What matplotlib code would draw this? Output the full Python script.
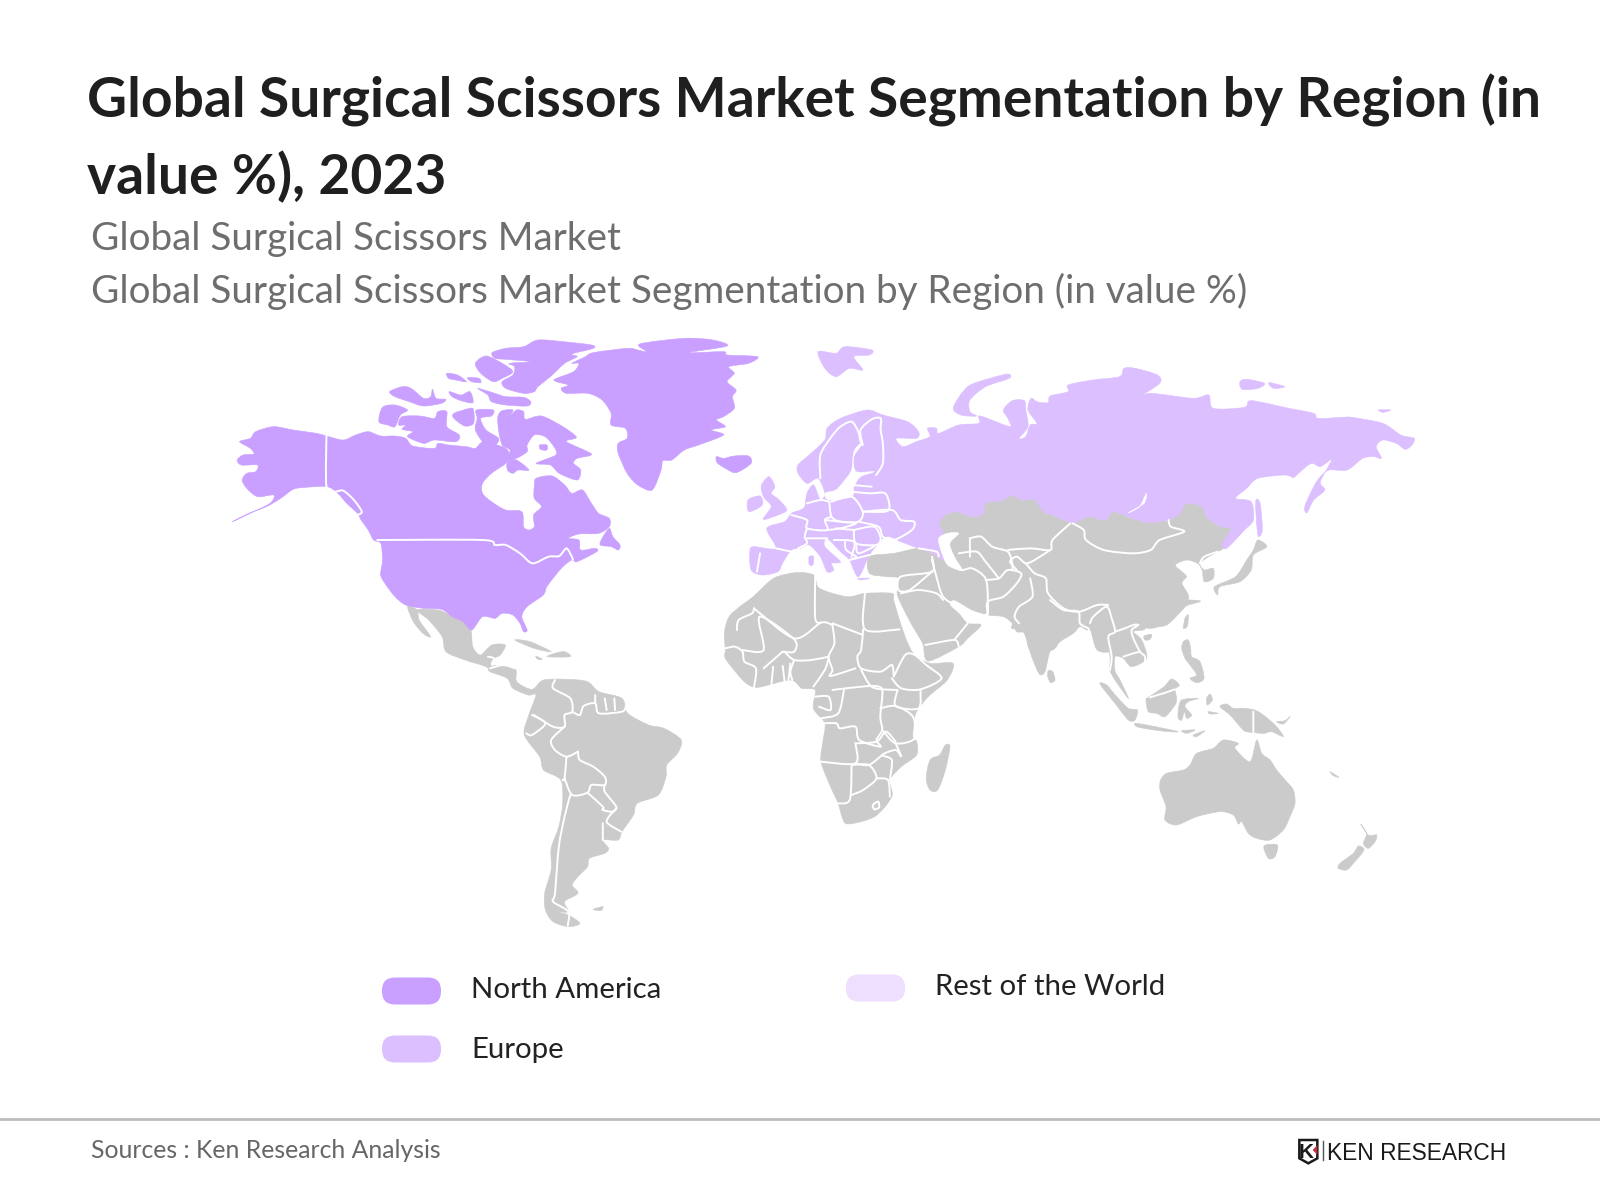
import matplotlib
matplotlib.use("Agg")
import numpy as np
import matplotlib.pyplot as plt
from matplotlib.patches import Polygon, FancyBboxPatch, PathPatch
from matplotlib.path import Path

plt.rcParams["font.family"] = ["Lato", "DejaVu Sans"]

# =========================
# TEXT AND LEGEND
# =========================
title_lines = ["Global Surgical Scissors Market Segmentation by Region (in", "value %), 2023"]
subtitle_lines = ["Global Surgical Scissors Market", "Global Surgical Scissors Market Segmentation by Region (in value %)"]
source_text = "Sources : Ken Research Analysis"
legend_labels = ["North America", "Europe", "Rest of the World"]
legend_colors = ["#C9A0FF", "#DCBFFF", "#EEDFFF"]
land_grey = "#CBCBCB"

# =========================
# MAP OUTLINES, traced from crops
# A = North America crop, B = Eurasia crop, C = Americas/Africa crop, D = Asia-Pacific crop
# =========================
views = {"A": (220, 330, 2.8, 3), "B": (740, 330, 2.24, 3), "C": (400, 600, 2.613, 3), "D": (1000, 600, 3, 3)}

na_shapes = [
    [(35,575),(75,555),(140,520),(150,495),(105,500),(75,475),(62,450),(75,430),(100,425),(105,405),(60,405),(48,390),(65,375),(95,372),(85,355),(55,335),(85,325),(100,305),(150,290),(205,300),(270,310),(298,318),(345,330),(380,315),(415,305),(450,318),(490,318),(520,325),(540,348),(600,355),(610,340),(640,345),(690,350),(715,355),(738,335),(790,350),(805,360),(810,375),(800,400),(760,430),(735,460),(735,490),(760,515),(800,540),(845,545),(850,590),(865,600),(880,590),(878,555),(900,530),(880,505),(880,470),(885,445),(930,438),(965,465),(985,490),(1015,480),(1040,520),(1060,550),(1090,565),(1090,590),(1060,610),(1005,612),(975,625),(1005,630),(1010,660),(1050,655),(1055,665),(1000,695),(985,690),(960,710),(940,735),(915,770),(905,795),(860,830),(845,860),(860,900),(850,905),(840,880),(820,855),(790,850),(770,865),(735,860),(705,900),(680,875),(650,860),(620,838),(570,835),(520,825),(490,800),(465,765),(450,735),(455,690),(450,640),(430,630),(415,600),(395,570),(385,550),(355,520),(330,490),(300,470),(240,472),(205,478),(170,505),(130,530),(80,550)],
    [(762,68),(800,55),(850,50),(890,30),(960,35),(1040,45),(1045,55),(985,72),(1000,80),(965,100),(925,140),(890,170),(880,185),(850,190),(800,175),(790,155),(820,135),(825,110),(810,100),(870,95),(800,88),(770,85)],
    [(715,100),(745,78),(790,100),(820,125),(790,145),(765,155),(730,130)],
    [(635,130),(665,135),(690,155),(660,150),(640,145)],
    [(693,143),(725,145),(730,158),(705,155)],
    [(722,175),(770,190),(800,200),(850,202),(870,215),(860,228),(800,225),(760,215),(750,195)],
    [(642,185),(675,195),(700,185),(708,218),(675,212),(650,200)],
    [(475,185),(510,170),(535,175),(570,205),(590,200),(595,178),(605,205),(632,208),(620,220),(570,228),(530,215),(490,200)],
    [(455,232),(490,225),(525,240),(505,255),(490,290),(470,285),(445,275)],
    [(510,260),(560,258),(600,265),(610,245),(635,245),(635,290),(670,315),(660,335),(600,330),(570,340),(525,320),(540,305),(510,298),(520,285),(500,285)],
    [(655,250),(700,235),(710,240),(710,280),(685,288),(655,265)],
    [(718,240),(765,240),(760,258),(730,265),(745,300),(780,325),(770,345),(740,340),(715,300),(720,265)],
    [(778,260),(790,242),(820,240),(810,260),(830,240),(850,245),(855,268),(900,258),(960,290),(998,322),(970,335),(1040,372),(1000,385),(990,400),(1010,420),(1000,450),(950,430),(925,405),(885,400),(940,375),(935,350),(910,320),(880,315),(860,345),(860,365),(830,385),(805,390),(812,360),(790,345),(780,300)],
    [(805,395),(830,390),(865,420),(835,420),(820,430),(805,420)],
    [(895,345),(915,345),(915,360),(897,358)],
    [(1090,595),(1100,620),(1120,645),(1115,660),(1095,650),(1065,645),(1070,625)],
    [(1045,68),(1140,55),(1170,60),(1195,65),(1175,42),(1300,25),(1380,30),(1420,48),(1310,68),(1410,65),(1420,75),(1505,80),(1480,100),(1425,110),(1440,130),(1420,155),(1445,180),(1435,200),(1440,235),(1410,260),(1390,270),(1415,290),(1375,300),(1410,315),(1340,345),(1300,360),(1265,390),(1240,392),(1235,420),(1210,480),(1170,465),(1140,430),(1115,370),(1115,340),(1140,325),(1135,295),(1095,285),(1095,250),(1070,210),(1030,190),(970,190),(955,175),(975,165),(935,150),(990,125),(1005,100),(985,100),(1020,82)],
    [(1390,380),(1410,385),(1440,378),(1480,378),(1487,400),(1445,428),(1415,415),(1392,398)],
]
na_borders = [
    [(298,318),(298,470),(320,485),(345,482),(375,510),(397,545),(385,555)],
    [(440,630),(735,630),(770,645),(800,645),(840,670),(875,700),(920,680),(950,678),(970,655),(985,680),(988,690)],
]

eu_shapes = [
    [(130,405),(155,375),(190,330),(195,295),(225,265),(285,240),(320,255),(375,275),(400,305),(395,325),(350,325),(365,350),(395,335),(425,320),(420,295),(440,295),(445,310),(490,285),(535,280),(535,258),(560,268),(605,290),(600,265),(590,240),(610,212),(637,212),(640,240),(645,290),(625,325),(640,320),(650,285),(665,280),(645,240),(652,205),(665,215),(690,218),(695,198),(735,185),(735,165),(790,150),(850,140),(860,115),(885,115),(935,135),(940,160),(890,205),(920,190),(1015,205),(1050,195),(1060,235),(1130,232),(1145,212),(1230,235),(1285,250),(1295,265),(1350,262),(1370,262),(1440,280),(1480,315),(1510,325),(1505,345),(1490,358),(1470,340),(1440,330),(1425,350),(1437,385),(1420,380),(1395,385),(1360,420),(1320,420),(1300,440),(1285,470),(1265,530),(1270,548),(1285,510),(1310,480),(1300,455),(1325,390),(1300,410),(1280,400),(1255,425),(1240,442),(1220,435),(1160,445),(1135,475),(1110,505),(1145,515),(1150,570),(1130,600),(1090,655),(1080,640),(1100,595),(1075,590),(1045,560),(1035,530),(1000,520),(985,550),(960,570),(915,578),(880,565),(835,545),(820,570),(780,560),(745,578),(700,555),(680,545),(660,510),(630,510),(610,495),(590,510),(550,520),(545,550),(520,560),(485,545),(460,555),(445,580),(455,610),(445,640),(455,680),(465,700),(430,670),(400,655),(360,635),(335,620),(320,625),(310,640),(290,675),(265,740),(245,690),(225,665),(195,625),(190,650),(225,695),(205,700),(210,720),(195,725),(180,680),(155,645),(135,655),(115,660),(95,700),(85,725),(50,735),(25,720),(22,665),(30,650),(80,655),(60,595),(100,575),(115,550),(135,540),(145,530),(150,490),(165,465),(180,510),(190,490),(175,445),(150,460),(130,430)],
    [(48,465),(65,440),(78,470),(70,490),(88,510),(105,540),(85,555),(52,568),(70,530),(55,505),(50,490)],
    [(18,510),(45,498),(50,525),(20,545)],
    [(175,65),(215,70),(235,50),(295,60),(290,75),(255,80),(275,120),(245,115),(215,140),(190,115)],
    [(478,232),(510,170),(560,145),(600,132),(603,145),(550,170),(515,210),(515,245),(530,258),(495,255)],
    [(1155,515),(1165,520),(1170,600),(1160,615)],
    [(1120,155),(1135,148),(1175,160),(1160,175),(1125,178)],
    [(1185,158),(1220,170),(1195,175)],
    [(1430,240),(1458,240),(1440,247)],
    [(155,680),(165,680),(163,705),(155,703)],
    [(265,745),(290,745),(270,750)],
]
eu_water = [
    [(190,490),(215,480),(235,450),(250,420),(255,365),(270,340),(275,340),(255,380),(260,425),(300,425),(270,440),(255,470),(250,500),(200,510)],
    [(910,490),(905,520),(870,548),(895,530)],
]
eu_borders = [
    [(180,445),(180,375),(205,320),(225,290),(250,275),(265,305),(270,335)],
    [(275,345),(270,300),(295,268),(315,265),(315,300),(320,340),(320,400),(305,435)],
    [(250,465),(295,470)],
    [(250,485),(290,490),(325,490),(335,530),(325,545),(275,545)],
    [(205,515),(250,500),(275,545),(265,575),(225,575),(205,560),(200,515)],
    [(150,520),(180,510),(200,515)],
    [(205,560),(190,570),(195,600),(150,595),(150,570),(115,555)],
    [(150,595),(145,620),(150,640),(130,655)],
    [(80,655),(115,665)],
    [(45,670),(38,725)],
    [(275,545),(340,540),(360,570),(390,575),(385,600),(345,630),(320,620),(310,590),(265,575)],
    [(255,600),(300,590),(315,625),(305,645),(260,640),(255,600)],
    [(260,640),(265,670),(300,650)],
    [(190,570),(225,575),(260,580),(225,595),(195,600)],
    [(215,595),(255,600)],
    [(150,625),(195,625)],
    [(235,635),(238,660),(260,680),(245,690)],
    [(210,630),(255,635),(250,680)],
    [(400,655),(440,665),(445,680)],
    [(245,690),(290,675)],
]

asia_north = [(445,580),(460,555),(485,545),(520,560),(545,550),(550,520),(590,510),(610,495),(630,510),(660,510),(680,545),(700,555),(745,578),(780,560),(820,570),(835,545),(880,565),(915,578),(960,570),(985,550),(1000,520),(1035,530),(1045,560),(1075,590),(1100,590),(1085,650),(1070,665),(1050,680),(1030,700),(1040,720),(1060,715),(1060,745),(1040,755),(1035,720),(1025,700),(1000,690),(975,705),(990,725),(1000,740),(990,760),(1005,800),(990,840),(945,885),(915,895),(880,880),(850,890),(835,960),(800,960),(785,900),(770,880),(755,870),(720,925),(700,960),(650,960),(640,910),(620,905),(610,880),(590,860),(555,855),(520,840),(480,810),(470,825),(490,850),(510,880),(540,885),(510,925),(490,950),(421,993),(409,940),(383,880),(362,825),(352,790),(355,745),(330,740),(290,730),(290,680),(345,670),(400,655),(430,670),(465,700),(455,680),(445,640),(455,610)]
asia_south = [(30,0),(30,30),(40,65),(35,85),(70,95),(95,170),(118,222),(135,215),(150,155),(180,125),(220,100),(240,80),(262,90),(270,70),(285,120),(295,145),(320,120),(330,170),(330,210),(345,240),(385,295),(360,240),(345,212),(345,170),(370,175),(395,200),(440,175),(425,120),(400,95),(430,90),(445,80),(500,75),(555,20),(570,0)]
caspian = [(465,610),(490,610),(470,640),(480,680),(497,720),(465,705),(450,660),(445,625)]
asia_islands_b = [
    [(1160,630),(1180,650),(1150,675),(1145,720),(1120,755),(1075,770),(1070,795),(1063,770),(1110,740),(1135,690),(1150,660)],
]
asia_borders_b = [
    [(430,680),(430,725),(360,740),(355,780),(380,780),(430,725)],
    [(430,690),(440,740),(455,800),(490,830),(550,855),(555,810),(550,745),(520,715),(495,720),(465,700)],
    [(360,790),(400,780),(440,790),(455,810)],
    [(415,945),(480,930),(490,950)],
    [(480,930),(510,880)],
    [(550,750),(580,745),(600,720),(630,730),(620,760),(590,800),(555,815),(555,855)],
    [(650,745),(655,800),(625,830),(615,860),(625,880)],
    [(490,670),(530,665),(550,695),(580,745)],
    [(515,625),(540,620),(565,650),(600,665),(610,700),(610,720)],
    [(515,625),(515,680)],
    [(600,660),(650,655),(695,660),(700,630),(740,580)],
    [(640,700),(660,730),(685,745),(690,790),(725,835),(760,845),(800,825),(825,825)],
    [(695,660),(660,690),(640,700),(620,680),(605,695),(620,720)],
    [(745,580),(770,600),(775,630),(815,660),(880,670),(920,660),(940,630),(995,605),(965,590),(960,570)],
    [(1070,665),(1040,680),(1030,700)],
]
asia_islands_d = [
    [(145,212),(158,215),(165,240),(152,248),(143,230)],
    [(300,252),(320,255),(350,290),(385,325),(412,330),(405,360),(385,360),(345,310)],
    [(405,370),(440,375),(490,385),(535,395),(505,395),(450,388),(410,380)],
    [(545,392),(585,390),(560,400)],
    [(580,405),(615,392),(590,410)],
    [(445,292),(490,262),(515,237),(538,255),(525,268),(530,295),(525,315),(495,350),(470,340),(445,335),(438,300)],
    [(545,300),(595,295),(565,305),(555,320),(575,345),(560,355),(553,335),(545,360),(535,355),(535,330)],
    [(620,295),(630,282),(637,300),(622,315)],
    [(550,125),(565,120),(572,145),(575,170),(600,185),(612,235),(590,248),(570,235),(590,225),(570,195),(555,175),(545,145)],
    [(555,55),(565,45),(562,78),(550,85)],
    [(432,108),(455,103),(450,118),(435,120)],
    [(625,335),(655,340),(630,342)],
    [(660,320),(680,312),(700,325),(735,325),(775,335),(825,375),(850,410),(815,395),(790,400),(740,395),(725,385),(690,345)],
    [(830,365),(855,362),(870,350),(850,372)],
    [(482,540),(500,520),(550,510),(570,495),(590,460),(640,445),(670,420),(715,430),(705,445),(750,485),(770,420),(785,460),(810,480),(830,510),(860,545),(880,570),(885,610),(870,650),(850,690),(810,720),(770,715),(745,700),(725,665),(715,672),(700,645),(660,635),(590,650),(530,675),(495,660),(498,620),(480,570)],
    [(792,738),(832,735),(825,770),(805,775)],
    [(1082,672),(1105,705),(1130,705),(1125,725),(1105,745),(1090,730),(1100,700)],
    [(1075,738),(1092,750),(1060,790),(1040,810),(1015,805),(1020,790),(1060,760)],
    [(990,515),(1017,532),(1000,527)],
]
asia_borders_d = [
    [(150,0),(190,30),(235,35),(240,70),(265,85)],
    [(270,70),(280,50),(320,20),(335,55),(345,95),(325,110),(335,170),(330,210)],
    [(345,95),(375,85),(400,75),(415,75),(395,90),(400,115),(420,155),(435,170),(430,195),(395,215)],
    [(370,170),(400,160),(420,155)],
    [(760,335),(760,400)],
    [(450,292),(490,280),(525,268)],
]

americas_shapes = [
    [(45,30),(100,30),(130,45),(160,55),(185,90),(190,140),(210,165),(240,135),(275,135),(262,165),(245,175),(240,195),(300,205),(305,245),(345,268),(375,240),(440,238),(490,245),(520,275),(580,295),(595,340),(650,375),(690,385),(735,420),(725,460),(697,495),(695,530),(675,585),(620,610),(610,645),(580,695),(570,720),(530,720),(545,745),(535,760),(495,775),(490,800),(465,830),(450,855),(465,880),(430,905),(440,935),(410,935),(440,945),(470,970),(440,980),(400,965),(380,930),(378,880),(395,810),(395,745),(415,680),(425,610),(420,540),(375,510),(365,470),(325,405),(335,350),(355,285),(335,285),(295,265),(280,235),(235,215),(225,200),(170,180),(120,155),(110,110),(75,60)],
    [(20,20),(45,30),(50,60),(80,110),(60,100),(35,65)],
    [(300,120),(340,125),(395,155),(350,145)],
    [(405,160),(430,155),(445,170),(385,170)],
    [(355,168),(372,178),(360,178)],
    [(505,928),(530,920),(525,932)],
]
americas_borders = [
    [(230,170),(245,175),(240,195)],
    [(235,205),(270,195),(300,205)],
    [(405,240),(400,265),(445,295),(450,335),(430,345),(430,380),(400,380),(350,345)],
    [(450,335),(470,345),(480,318),(510,310),(520,340),(580,335),(590,320)],
    [(510,310),(510,285)],
    [(535,295),(540,330)],
    [(560,295),(562,330)],
    [(345,345),(380,370),(345,405),(330,400)],
    [(430,380),(395,420),(405,450),(435,470),(465,455)],
    [(435,470),(430,535),(425,540)],
    [(465,455),(470,480),(505,500),(535,530),(535,555),(500,555),(490,578),(450,585),(430,535)],
    [(445,585),(430,650),(415,740),(405,880),(400,905),(440,935),(438,978)],
    [(490,578),(530,620),(530,630),(555,635),(565,620),(535,575),(535,555)],
    [(565,625),(540,665),(578,695)],
    [(530,670),(530,720)],
]

africa_shapes = [
    [(888,20),(923,-10),(976,-65),(1034,-82),(1081,-75),(1096,-35),(1168,-10),(1215,-20),(1285,-20),(1290,0),(1305,60),(1325,125),(1345,165),(1385,190),(1445,190),(1430,240),(1385,285),(1358,320),(1345,350),(1340,410),(1350,425),(1350,465),(1310,500),(1280,540),(1285,590),(1240,650),(1170,672),(1155,650),(1145,610),(1125,560),(1100,485),(1105,425),(1110,370),(1080,325),(1085,270),(1050,265),(1020,240),(935,262),(905,250),(880,220),(850,175),(850,150),(848,95),(860,50)],
    [(1425,435),(1437,440),(1425,510),(1405,570),(1385,570),(1375,535),(1385,480),(1410,465)],
]
africa_borders = [
    [(880,90),(885,60),(920,40),(925,25)],
    [(895,150),(950,150),(940,50),(1030,118),(1030,155),(1000,155)],
    [(925,25),(1030,115),(1100,68),(1130,75)],
    [(1085,-75),(1085,55),(1100,68)],
    [(1130,70),(1210,105)],
    [(1215,-20),(1215,88),(1305,88)],
    [(1210,88),(1205,150),(1195,170),(1205,205),(1255,215),(1285,195),(1290,225)],
    [(1130,75),(1135,130),(1120,170),(1130,210),(1125,228),(1190,205)],
    [(1005,155),(1030,180),(1075,180),(1120,170)],
    [(1030,180),(1020,215),(1025,240)],
    [(1120,175),(1110,210),(1080,260)],
    [(1290,230),(1320,165),(1345,165),(1375,195),(1415,235),(1360,268),(1310,265),(1285,235)],
    [(1360,268),(1355,325),(1295,318),(1300,270)],
    [(1205,210),(1235,262),(1300,270)],
    [(1130,270),(1165,265),(1235,258),(1260,270),(1255,350),(1260,390),(1245,420),(1255,440),(1200,420),(1190,380),(1150,385),(1140,370),(1105,370)],
    [(1160,270),(1145,340),(1100,355)],
    [(1085,290),(1120,290),(1125,330),(1095,320)],
    [(1255,325),(1295,318),(1340,350),(1345,415),(1295,430),(1260,390)],
    [(1190,430),(1190,490),(1100,485)],
    [(1190,430),(1245,425),(1270,395),(1295,425)],
    [(1260,465),(1225,495),(1190,490)],
    [(1295,430),(1310,470),(1295,450),(1260,465),(1285,480),(1280,540)],
    [(1180,495),(1175,600),(1140,610)],
    [(1180,495),(1225,495),(1245,535),(1210,570),(1180,585)],
    [(1245,535),(1275,540),(1280,590)],
    [(1240,610),(1250,605),(1252,622),(1240,628),(1235,618),(1240,610)],
    [(850,145),(875,140),(895,155),(900,185),(930,205),(925,262)],
    [(975,200),(970,262)],
    [(1000,198),(1005,245)],
    [(1020,190),(1015,240)],
    [(950,205),(1000,155)],
]

logo_shield = [(118,60),(172,60),(172,115),(145,130),(118,115)]
logo_mark = [(172,75),(172,105),(158,90)]

# =========================
# HELPERS
# =========================
def to_page(points, view):
    x0, y0, sx, sy = views[view]
    return np.array([(x0 + x / sx, y0 + y / sy) for x, y in points])

def curve_path(pts, closed):
    # rounded outline through the traced points, like the vector map in the original
    n = len(pts)
    verts = [pts[0]]
    codes = [Path.MOVETO]
    for i in range(n if closed else n - 1):
        if closed:
            p0, p1, p2, p3 = pts[(i - 1) % n], pts[i], pts[(i + 1) % n], pts[(i + 2) % n]
        else:
            p0, p1, p2, p3 = pts[max(i - 1, 0)], pts[i], pts[i + 1], pts[min(i + 2, n - 1)]
        verts += [p1 + (p2 - p0) / 7, p2 - (p3 - p1) / 7, p2]
        codes += [Path.CURVE4] * 3
    return Path(verts, codes)

def draw_land(shapes, view, color):
    for shape in shapes:
        path = curve_path(to_page(shape, view), True)
        ax.add_patch(PathPatch(path, facecolor=color, edgecolor=color, lw=0.4, zorder=2))

def draw_borders(lines, view):
    for line in lines:
        path = curve_path(to_page(line, view), False)
        ax.add_patch(PathPatch(path, facecolor="none", edgecolor="white", lw=1.4, zorder=4, capstyle="round"))

# =========================
# FIGURE
# =========================
fig = plt.figure(figsize=(16, 12), dpi=100)
ax = fig.add_axes([0, 0, 1, 1])
ax.set_xlim(0, 1600)
ax.set_ylim(1200, 0)
ax.axis("off")

# =========================
# MAP
# =========================
draw_land(americas_shapes, "C", land_grey)
draw_land(africa_shapes, "C", land_grey)
draw_land([asia_north] + asia_islands_b, "B", land_grey)
draw_land([asia_south] + asia_islands_d, "D", land_grey)
draw_land(eu_shapes, "B", legend_colors[1])
draw_land(eu_water + [caspian], "B", "white")
draw_land(na_shapes, "A", legend_colors[0])

draw_borders(na_borders, "A")
draw_borders(eu_borders, "B")
draw_borders(asia_borders_b, "B")
draw_borders(asia_borders_d, "D")
draw_borders(americas_borders, "C")
draw_borders(africa_borders, "C")

# =========================
# TITLES
# =========================
for text, y in zip(title_lines, [100, 177]):
    ax.text(87, y, text, fontsize=39.7, fontweight="bold", color="#1F1F1F", va="center")
for text, y in zip(subtitle_lines, [239, 291]):
    ax.text(91, y, text, fontsize=27.85, color="#6E6E6E", va="center")

# =========================
# LEGEND
# =========================
for x, y, label, color in zip([382, 382, 846], [991, 1049, 988], legend_labels, legend_colors):
    ax.add_patch(FancyBboxPatch((x, y - 13.5), 59, 27, boxstyle="round,pad=0,rounding_size=13",
                                facecolor=color, edgecolor="none", zorder=3))
ax_text_y = [990, 1050, 987]
for x, y, label in zip([471, 471, 935], ax_text_y, legend_labels):
    ax.text(x, y, label, fontsize=21.2, color="#222222", va="center")

# =========================
# FOOTER
# =========================
ax.plot([0, 1600], [1119, 1119], color="#BEBEBE", lw=2)
ax.text(91, 1150, source_text, fontsize=17.85, color="#666666", va="center")

shield = [(1260 + x / 3, 1120 + y / 3) for x, y in logo_shield]
ax.add_patch(Polygon(shield, closed=True, facecolor="white", edgecolor="#1A1A1A", lw=1.8))
ax.add_patch(Polygon([(1260 + x / 3, 1120 + y / 3) for x, y in logo_mark], closed=True, facecolor="#C0303C", edgecolor="none"))
ax.text(1306.5, 1152, "K", fontsize=15, fontweight="bold", color="#1A1A1A", ha="center", va="center", family="Liberation Sans")
ax.plot([1323, 1323], [1141, 1160], color="#555555", lw=1)
ax.text(1327, 1153, "KEN RESEARCH", fontsize=16.4, color="#1A1A1A", va="center", family="Liberation Sans")

fig.savefig("out.png", dpi=100)
